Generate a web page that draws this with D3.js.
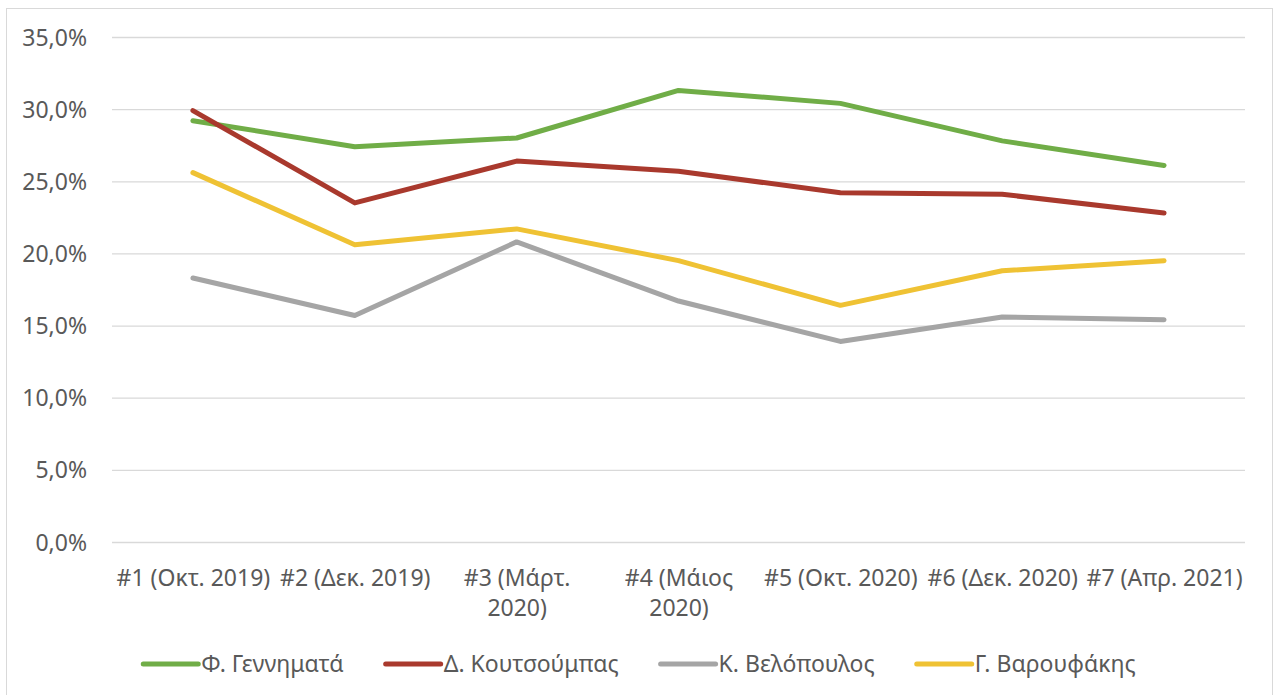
<!DOCTYPE html>
<html>
<head>
<meta charset="utf-8">
<script src="https://cdn.jsdelivr.net/npm/d3@7"></script>
<style>
  body { margin: 0; background: #fff; }
  svg text { font-family: "Noto Sans", sans-serif; fill: #595959; font-size: 23px; }
</style>
</head>
<body>
<div id="chart"></div>
<script>
const w = 1274;
const h = 695;

// survey waves, "\n" marks where the label wraps
const categories = ["#1 (Οκτ. 2019)", "#2 (Δεκ. 2019)", "#3 (Μάρτ.\n2020)", "#4 (Μάιος\n2020)",
  "#5 (Οκτ. 2020)", "#6 (Δεκ. 2020)", "#7 (Απρ. 2021)"];
const seriesNames = ["Φ. Γεννηματά", "Δ. Κουτσούμπας", "Κ. Βελόπουλος", "Γ. Βαρουφάκης"];
const seriesColors = ["#70ad47", "#a9392d", "#a5a5a5", "#efc234"];
const gennimata = [29.2, 27.4, 28.0, 31.3, 30.4, 27.8, 26.1];
const koutsoumpas = [29.9, 23.5, 26.4, 25.7, 24.2, 24.1, 22.8];
const velopoulos = [18.3, 15.7, 20.8, 16.7, 13.9, 15.6, 15.4];
const varoufakis = [25.6, 20.6, 21.7, 19.5, 16.4, 18.8, 19.5];
const yTicks = [0, 5, 10, 15, 20, 25, 30, 35];

const seriesValues = [gennimata, koutsoumpas, velopoulos, varoufakis];

const greek = d3.formatLocale({decimal: ",", thousands: ".", grouping: [3], currency: ["", "€"]});
const pct = greek.format(".1f");

const svg = d3.select("#chart").append("svg")
  .attr("width", w)
  .attr("height", h);

// chart frame
svg.append("rect")
  .attr("x", 6.5).attr("y", 8.5)
  .attr("width", 1266).attr("height", 700)
  .attr("fill", "#fff")
  .attr("stroke", "#d9d9d9")
  .attr("stroke-width", 1);

const plotLeft = 112, plotRight = 1245;

const x = d3.scalePoint().domain(categories).range([plotLeft, plotRight]).padding(0.5);
const y = d3.scaleLinear().domain([0, 35]).range([542, 37]);

// y axis + gridlines
const yAxis = svg.append("g")
  .attr("transform", `translate(${plotLeft},0)`)
  .call(d3.axisLeft(y).tickValues(yTicks).tickSize(-(plotRight - plotLeft)).tickPadding(25)
    .tickFormat((d) => pct(d) + "%"));
yAxis.select(".domain").remove();
yAxis.selectAll(".tick line").attr("stroke", "#d9d9d9").attr("stroke-width", 1.3);
yAxis.selectAll(".tick text").attr("dy", "0.35em");

// x axis labels
const xAxis = svg.append("g")
  .attr("transform", "translate(0,542)")
  .call(d3.axisBottom(x).tickSize(0).tickPadding(0));
xAxis.select(".domain").remove();
xAxis.selectAll(".tick text").each(function (d) {
  const t = d3.select(this);
  t.text(null).attr("y", 0).attr("dy", null);
  d.split("\n").forEach((line, i) => {
    t.append("tspan").attr("x", 0).attr("y", 44 + i * 30).text(line);
  });
});

// lines
const line = d3.line()
  .x((d, i) => x(categories[i]))
  .y((d) => y(d));

svg.append("g").selectAll("path")
  .data(seriesValues)
  .enter()
  .append("path")
  .attr("d", line)
  .attr("fill", "none")
  .attr("stroke", (d, i) => seriesColors[i])
  .attr("stroke-width", 5)
  .attr("stroke-linecap", "round")
  .attr("stroke-linejoin", "round");

// legend, centred under the chart
const legend = svg.append("g");
const items = legend.selectAll("g").data(seriesNames).enter().append("g");
items.append("line")
  .attr("x1", 0).attr("x2", 55)
  .attr("y1", 0).attr("y2", 0)
  .attr("stroke", (d, i) => seriesColors[i])
  .attr("stroke-width", 5)
  .attr("stroke-linecap", "round");
items.append("text")
  .attr("x", 58)
  .attr("dy", "0.35em")
  .text((d) => d);

let cursor = 0;
items.each(function () {
  const g = d3.select(this);
  const tw = g.select("text").node().getComputedTextLength();
  g.attr("transform", `translate(${cursor},0)`);
  cursor += 58 + tw + 42;
});
const legendWidth = cursor - 42;
legend.attr("transform", `translate(${(6 + 1273) / 2 - legendWidth / 2},664)`);
</script>
</body>
</html>
